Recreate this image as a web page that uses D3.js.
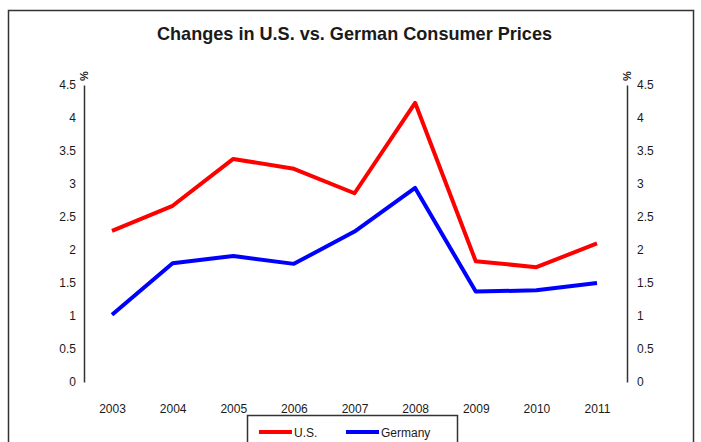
<!DOCTYPE html>
<html>
<head>
<meta charset="utf-8">
<script src="https://cdn.jsdelivr.net/npm/d3@7"></script>
<style>
  body { margin: 0; background: #fff; }
  svg text { font-family: "Liberation Sans", Arial, sans-serif; fill: #1a1a1a; }
</style>
</head>
<body>
<div class="chart"></div>
<script>
// data
const years = ["2003", "2004", "2005", "2006", "2007", "2008", "2009", "2010", "2011"];
const usValues = [2.29, 2.67, 3.38, 3.23, 2.86, 4.23, 1.83, 1.74, 2.10];
const germanyValues = [1.02, 1.80, 1.91, 1.79, 2.28, 2.94, 1.37, 1.39, 1.50];
const yTicks = [0, 0.5, 1, 1.5, 2, 2.5, 3, 3.5, 4, 4.5];
const seriesNames = ["U.S.", "Germany"];
const seriesColors = ["#ff0000", "#0000ff"];

const W = 701, H = 442;
const svg = d3.select(".chart").append("svg")
    .attr("width", W).attr("height", H);

// outer frame (bottom runs off the picture)
svg.append("rect")
    .attr("x", 8.5).attr("y", 10.5)
    .attr("width", 685).attr("height", 460)
    .attr("fill", "none").attr("stroke", "#333").attr("stroke-width", 1.5);

// narrow-looking bold title, squeezed to the reference width
svg.append("text")
    .attr("x", 157).attr("y", 40)
    .attr("textLength", 395).attr("lengthAdjust", "spacingAndGlyphs")
    .style("font-weight", "bold").style("font-size", "19px")
    .text("Changes in U.S. vs. German Consumer Prices");

const x = d3.scalePoint().domain(years).range([112, 597]);
const y = d3.scaleLinear().domain([0, 4.5]).range([382, 85]);

// left axis
const leftAxis = d3.axisLeft(y).tickValues(yTicks).tickSize(0).tickPadding(8)
    .tickFormat(d3.format("~g"));
svg.append("g").attr("class", "axis")
    .attr("transform", "translate(84,0)")
    .call(leftAxis)
    .call(g => g.select(".domain").attr("stroke", "#333").attr("stroke-width", 1.5))
    .call(g => g.selectAll("text").style("font-size", "12px"));

// right axis
const rightAxis = d3.axisRight(y).tickValues(yTicks).tickSize(0).tickPadding(10)
    .tickFormat(d3.format("~g"));
svg.append("g").attr("class", "axis")
    .attr("transform", "translate(627,0)")
    .call(rightAxis)
    .call(g => g.select(".domain").attr("stroke", "#333").attr("stroke-width", 1.5))
    .call(g => g.selectAll("text").style("font-size", "12px"));

// % unit labels
[84, 627].forEach(px => {
  svg.append("text")
    .attr("transform", `translate(${px + 4},${y(4.5) - 4}) rotate(-90)`)
    .style("font-size", "11px").style("font-weight", "bold")
    .text("%");
});

// x labels
const xAxis = d3.axisBottom(x).tickSize(0).tickPadding(0);
svg.append("g")
    .attr("transform", "translate(0,404)")
    .call(xAxis)
    .call(g => g.select(".domain").remove())
    .call(g => g.selectAll("text").style("font-size", "12px"));

const line = d3.line()
    .x((d, i) => x(years[i]))
    .y(d => y(d));

[usValues, germanyValues].forEach((vals, i) => {
  svg.append("path")
    .datum(vals)
    .attr("d", line)
    .attr("fill", "none")
    .attr("stroke", seriesColors[i])
    .attr("stroke-width", 4)
    .attr("stroke-linejoin", "round");
});

// legend
const legend = svg.append("g").attr("transform", "translate(247,415)");
legend.append("rect")
    .attr("x", 0.5).attr("y", 0.5).attr("width", 210).attr("height", 40)
    .attr("fill", "#fff").attr("stroke", "#333").attr("stroke-width", 1.5);
const legendX = [12, 99];
seriesNames.forEach((name, i) => {
  legend.append("line")
    .attr("x1", legendX[i]).attr("x2", legendX[i] + 33)
    .attr("y1", 17).attr("y2", 17)
    .attr("stroke", seriesColors[i]).attr("stroke-width", 4);
  legend.append("text")
    .attr("x", legendX[i] + 35).attr("y", 21.5)
    .style("font-size", "12px")
    .text(name);
});
</script>
</body>
</html>
